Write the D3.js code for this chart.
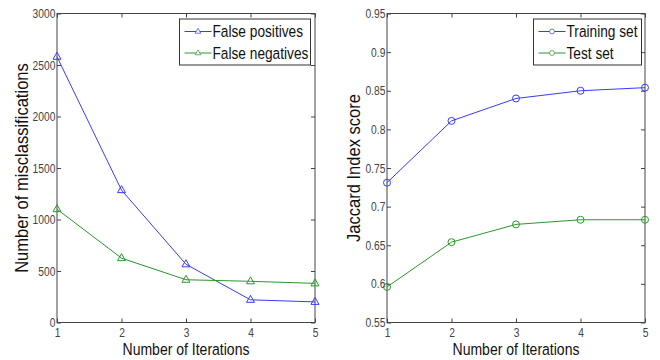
<!DOCTYPE html>
<html>
<head>
<meta charset="utf-8">
<script src="https://cdn.jsdelivr.net/npm/d3@7"></script>
<style>
  body { margin: 0; background: #fff; }
  text { font-family: Arial, "Liberation Sans", Helvetica, sans-serif; }
</style>
</head>
<body>
<div id="chart"></div>
<script>
// chart size
var width = 660, height = 360;

// data
var iterations = [1, 2, 3, 4, 5];
var falsePositives = [2580, 1285, 565, 220, 200];
var falseNegatives = [1100, 625, 415, 400, 380];
var trainingSet = [0.731, 0.811, 0.840, 0.850, 0.854];
var testSet = [0.596, 0.654, 0.677, 0.683, 0.683];

var leftTicks = [0, 500, 1000, 1500, 2000, 2500, 3000];
var rightTicks = [0.55, 0.6, 0.65, 0.7, 0.75, 0.8, 0.85, 0.9, 0.95];

var blue = "#3a3aff", green = "#2a982a";

var svg = d3.select("#chart").append("svg")
    .attr("width", width)
    .attr("height", height);

// draws one matlab style panel
function panel(opt){
    var x = d3.scaleLinear().domain([1, 5]).range([opt.left, opt.right]);
    var y = d3.scaleLinear().domain(opt.ydomain).range([opt.bottom, opt.top]);
    var g = svg.append("g");

    // box
    g.append("rect")
        .attr("x", opt.left).attr("y", opt.top)
        .attr("width", opt.right - opt.left).attr("height", opt.bottom - opt.top)
        .attr("fill", "#fff").attr("stroke", "#444").attr("stroke-width", 1);

    // axes with inward ticks
    var xb = g.append("g").attr("transform", "translate(0," + opt.bottom + ")")
        .call(d3.axisBottom(x).tickValues(iterations).tickSizeInner(-4).tickSizeOuter(0).tickFormat(d3.format("d")));
    var xt = g.append("g").attr("transform", "translate(0," + opt.top + ")")
        .call(d3.axisTop(x).tickValues(iterations).tickSizeInner(-4).tickSizeOuter(0).tickFormat(""));
    var yl = g.append("g").attr("transform", "translate(" + opt.left + ",0)")
        .call(d3.axisLeft(y).tickValues(opt.yticks).tickSizeInner(-4).tickSizeOuter(0).tickPadding(2).tickFormat(opt.fmt));
    var yr = g.append("g").attr("transform", "translate(" + opt.right + ",0)")
        .call(d3.axisRight(y).tickValues(opt.yticks).tickSizeInner(-4).tickSizeOuter(0).tickFormat(""));

    [xb, xt, yl, yr].forEach(function(a){
        a.select(".domain").remove();
        a.selectAll(".tick line").attr("stroke", "#444");
        a.selectAll("text")
            .attr("font-size", 12.5)
            .attr("fill", "#444")
            .attr("font-family", "Arial, 'Liberation Sans', sans-serif")
            .attr("transform", "scale(0.82,1)");
    });
    xb.selectAll("text").attr("dy", "0.71em").attr("y", 6);

    // lines + markers
    var line = d3.line()
        .x(function(d, i){ return x(iterations[i]); })
        .y(function(d){ return y(d); });

    opt.series.forEach(function(s){
        g.append("path")
            .datum(s.values)
            .attr("d", line)
            .attr("fill", "none")
            .attr("stroke", s.color)
            .attr("stroke-width", 1);
        g.selectAll(null)
            .data(s.values)
            .enter().append("path")
            .attr("transform", function(d, i){ return "translate(" + x(iterations[i]) + "," + y(d) + ")"; })
            .attr("d", opt.marker)
            .attr("fill", "none")
            .attr("stroke", s.color)
            .attr("stroke-width", 1);
    });

    // x label
    g.append("text")
        .attr("transform", "translate(" + ((opt.left + opt.right) / 2) + ",355) scale(0.85,1)")
        .attr("text-anchor", "middle")
        .attr("font-size", 16.5)
        .attr("fill", "#111")
        .text("Number of Iterations");

    // y label
    g.append("text")
        .attr("transform", "translate(" + opt.ylabelX + "," + ((opt.top + opt.bottom) / 2) + ") rotate(-90) scale(0.92,1)")
        .attr("text-anchor", "middle")
        .attr("font-size", 18)
        .attr("fill", "#111")
        .text(opt.ylabel);

    // legend
    var lg = g.append("g");
    lg.append("rect")
        .attr("x", opt.legend.x).attr("y", 19)
        .attr("width", opt.legend.w).attr("height", 46)
        .attr("fill", "#fff").attr("stroke", "#333").attr("stroke-width", 1);
    opt.series.forEach(function(s, i){
        var ly = 31.5 + i * 21.5;
        var lx0 = opt.legend.x + 5, lx1 = opt.legend.x + 32;
        lg.append("line")
            .attr("x1", lx0).attr("x2", lx1).attr("y1", ly).attr("y2", ly)
            .attr("stroke", s.color).attr("stroke-width", 1);
        lg.append("path")
            .attr("transform", "translate(" + ((lx0 + lx1) / 2) + "," + ly + ") scale(0.7)")
            .attr("d", opt.marker)
            .attr("fill", "#fff").attr("stroke", s.color).attr("stroke-width", 1);
        lg.append("text")
            .attr("transform", "translate(" + (lx1 + 1) + "," + (ly + 5.5) + ") scale(0.83,1)")
            .attr("font-size", 16.5)
            .attr("fill", "#111")
            .text(s.name);
    });
}

var triangle = "M0,-4.5L4,2.5L-4,2.5Z";
var circle = "M3.5,0A3.5,3.5 0 1,1 -3.5,0A3.5,3.5 0 1,1 3.5,0Z";

panel({
    left: 57, right: 315, top: 13.5, bottom: 322.5,
    ydomain: [0, 3000], yticks: leftTicks, fmt: d3.format("d"),
    ylabel: "Number of misclassifications", ylabelX: 28,
    marker: triangle,
    legend: { x: 179.5, w: 131 },
    series: [
        { name: "False positives", values: falsePositives, color: blue },
        { name: "False negatives", values: falseNegatives, color: green }
    ]
});

panel({
    left: 387, right: 645, top: 13.5, bottom: 322.5,
    ydomain: [0.55, 0.95], yticks: rightTicks, fmt: d3.format(""),
    ylabel: "Jaccard Index score", ylabelX: 360,
    marker: circle,
    legend: { x: 533.5, w: 108 },
    series: [
        { name: "Training set", values: trainingSet, color: blue },
        { name: "Test set", values: testSet, color: green }
    ]
});
</script>
</body>
</html>
